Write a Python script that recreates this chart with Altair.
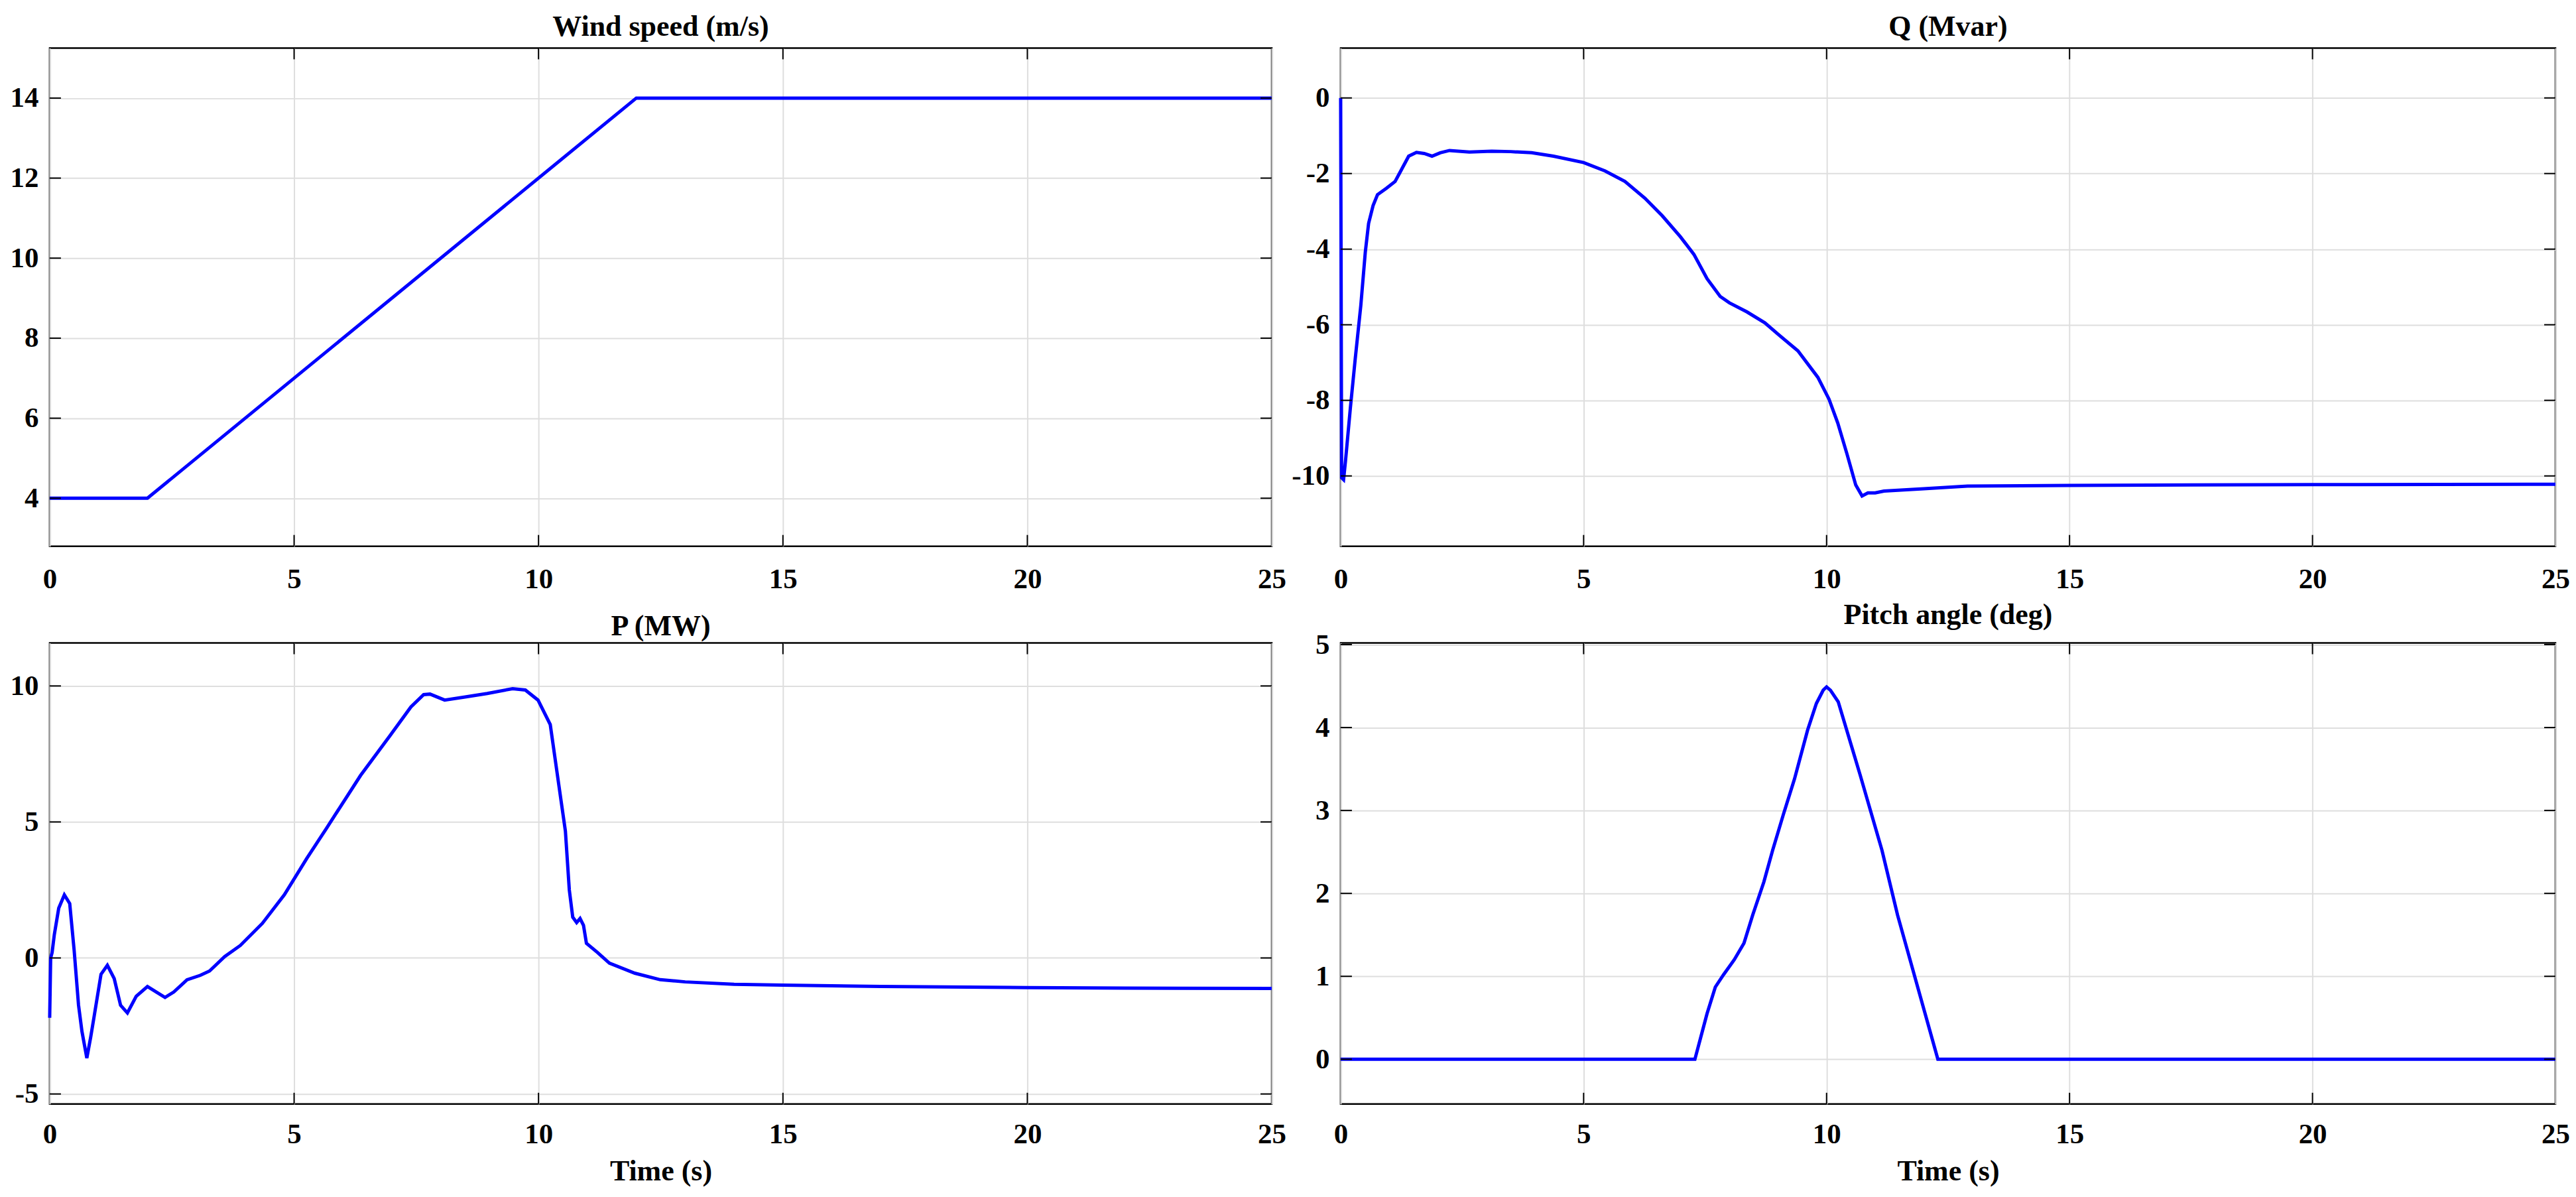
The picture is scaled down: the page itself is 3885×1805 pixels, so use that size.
import altair as alt
import pandas as pd

# ---------------- data ----------------
wind_t = [0, 2, 12, 25]
wind_v = [4, 4, 14, 14]

q_t = [0, 0.02, 0.06, 0.1, 0.2, 0.3, 0.415, 0.507, 0.575, 0.667, 0.758, 0.94, 1.12,
       1.25, 1.40, 1.56, 1.72, 1.88, 2.05, 2.24, 2.65, 3.11, 3.5, 3.93, 4.38, 5.0,
       5.44, 5.85, 6.26, 6.62, 6.99, 7.27, 7.54, 7.81, 8.0, 8.36, 8.73, 9.0, 9.41,
       9.82, 10.05, 10.23, 10.42, 10.6, 10.73, 10.85, 11.0, 11.18, 12.0, 12.9, 15.0,
       20.0, 25.0]
q_v = [0, -10.05, -10.1, -9.6, -8.2, -6.9, -5.49, -4.08, -3.32, -2.85, -2.56, -2.39,
       -2.21, -1.9, -1.54, -1.44, -1.47, -1.54, -1.45, -1.39, -1.43, -1.41, -1.42,
       -1.45, -1.54, -1.71, -1.93, -2.21, -2.65, -3.12, -3.67, -4.14, -4.78, -5.25,
       -5.42, -5.66, -5.95, -6.25, -6.69, -7.39, -7.97, -8.6, -9.42, -10.24, -10.53,
       -10.45, -10.45, -10.4, -10.34, -10.27, -10.25, -10.23, -10.22]

p_t = [0, 0.02, 0.05, 0.095, 0.185, 0.30, 0.41, 0.50, 0.59, 0.66, 0.76, 0.84, 0.91,
       1.05, 1.18, 1.32, 1.45, 1.59, 1.77, 2.0, 2.18, 2.36, 2.54, 2.81, 3.08, 3.27,
       3.58, 3.9, 4.35, 4.8, 5.26, 5.66, 6.36, 6.96, 7.39, 7.65, 7.78, 8.08, 8.52,
       8.95, 9.47, 9.73, 9.99, 10.24, 10.42, 10.55, 10.63, 10.7, 10.78, 10.85, 10.92,
       10.98, 11.2, 11.45, 11.97, 12.49, 13.0, 14.0, 15.0, 17.0, 20.0, 22.0, 25.0]
p_v = [-2.2, 0, 0.2, 0.86, 1.83, 2.32, 2.0, 0.29, -1.73, -2.7, -3.68, -2.9, -2.14,
       -0.6, -0.27, -0.76, -1.74, -2.02, -1.41, -1.05, -1.25, -1.45, -1.25, -0.8,
       -0.64, -0.48, 0.05, 0.46, 1.27, 2.32, 3.66, 4.76, 6.71, 8.17, 9.23, 9.68, 9.70,
       9.48, 9.6, 9.72, 9.9, 9.85, 9.48, 8.58, 6.3, 4.66, 2.5, 1.5, 1.3, 1.45, 1.2,
       0.54, 0.21, -0.19, -0.56, -0.8, -0.88, -0.97, -1.0, -1.05, -1.09, -1.11, -1.12]

pitch_t = [0, 7.29, 7.54, 7.71, 7.88, 8.1, 8.3, 8.48, 8.71, 8.89, 9.11, 9.34, 9.61,
           9.79, 9.93, 10.0, 10.08, 10.24, 10.69, 11.14, 11.46, 12.29, 25]
pitch_v = [0, 0, 0.55, 0.87, 1.02, 1.2, 1.4, 1.74, 2.14, 2.52, 2.95, 3.38, 3.97,
           4.29, 4.45, 4.49, 4.45, 4.31, 3.43, 2.52, 1.74, 0, 0]

x_ticks = [0, 5, 10, 15, 20, 25]
wind_ticks = [4, 6, 8, 10, 12, 14]
q_ticks = [-10, -8, -6, -4, -2, 0]
p_ticks = [-5, 0, 5, 10]
pitch_ticks = [0, 1, 2, 3, 4, 5]

titles = ["Wind speed (m/s)", "Q (Mvar)", "P (MW)", "Pitch angle (deg)"]
x_title = "Time (s)"

# ---------------- styling ----------------
FONT = "Liberation Serif"
TICK = 17
LEFT_W = 1845
RIGHT_W = 1834
TOP_H = 752
BOT_H = 696


def panel(ts, vs, title, ydom, yticks, xtitle, width, height, xpad, toff):
    df = pd.DataFrame({"t": ts, "v": vs})
    xs = alt.Scale(domain=[0, 25], nice=False, zero=False)
    ys = alt.Scale(domain=ydom, nice=False, zero=False)
    xa = alt.Axis(values=x_ticks, title=xtitle, labelExpr="'' + datum.value",
                  labelPadding=xpad)
    ya = alt.Axis(values=yticks, title=None, labelExpr="'' + datum.value")
    line = alt.Chart(df).mark_line(color="#0000ff", strokeWidth=5).encode(
        x=alt.X("t:Q", scale=xs, axis=xa),
        y=alt.Y("v:Q", scale=ys, axis=ya),
    )
    xt = pd.DataFrame({"t": x_ticks[1:-1]})
    yt = pd.DataFrame({"v": yticks})
    rule = dict(color="black", strokeWidth=2)
    top_t = alt.Chart(xt).mark_rule(**rule).encode(
        x=alt.X("t:Q", scale=xs, axis=xa), y=alt.value(0), y2=alt.value(TICK))
    bot_t = alt.Chart(xt).mark_rule(**rule).encode(
        x=alt.X("t:Q", scale=xs, axis=xa), y=alt.value(height - TICK), y2=alt.value(height))
    left_t = alt.Chart(yt).mark_rule(**rule).encode(
        y=alt.Y("v:Q", scale=ys, axis=ya), x=alt.value(0), x2=alt.value(TICK))
    right_t = alt.Chart(yt).mark_rule(**rule).encode(
        y=alt.Y("v:Q", scale=ys, axis=ya), x=alt.value(width - TICK), x2=alt.value(width))
    return alt.layer(line, top_t, bot_t, left_t, right_t).properties(
        width=width, height=height,
        title=alt.Title(title, frame="group", anchor="middle", offset=toff),
    )


wind = panel(wind_t, wind_v, titles[0], [2.8, 15.25], wind_ticks, None,
             LEFT_W, TOP_H, 29, 8.4)
q = panel(q_t, q_v, titles[1], [-11.86, 1.32], q_ticks, None,
          RIGHT_W, TOP_H, 29, 8.4)
p = panel(p_t, p_v, titles[2], [-5.37, 11.58], p_ticks, x_title,
          LEFT_W, BOT_H, 25, 1.5)
pitch = panel(pitch_t, pitch_v, titles[3], [-0.54, 5.02], pitch_ticks, x_title,
              RIGHT_W, BOT_H, 25, 1.5)

chart = alt.concat(
    wind, q, p, pitch, columns=2,
    spacing={"row": 146, "column": 104}, bounds="flush",
).properties(
    padding={"left": 5, "top": 8.6, "right": 0, "bottom": 5},
    background="white",
).configure_axis(
    labelFont=FONT, labelFontSize=43, labelFontWeight="bold", labelColor="black",
    titleFont=FONT, titleFontSize=44, titleFontWeight="bold", titleColor="black",
    domain=False, ticks=False, tickSize=0, grid=True, gridColor="#dedede", gridWidth=2,
    labelFlush=False, labelOverlap=False,
).configure_axisX(
    titlePadding=12,
).configure_axisY(
    labelPadding=17,
).configure_title(
    font=FONT, fontSize=44, fontWeight="bold", color="black",
).configure_view(
    stroke="black", strokeWidth=2.5,
)

chart.save("out.html", embed_options={"renderer": "svg", "actions": False})
